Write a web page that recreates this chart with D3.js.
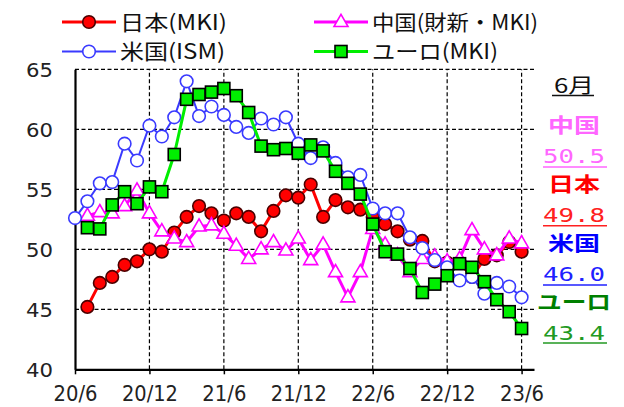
<!DOCTYPE html>
<html><head><meta charset="utf-8">
<script src="https://cdn.jsdelivr.net/npm/d3@7"></script>
<style>body{margin:0;background:#fff}svg{display:block}</style>
</head><body>
<svg id="c" width="624" height="407"></svg>
<script>
// Manufacturing PMI, monthly. Offsets are months after 2020/6.
const japan = [45.2,47.2,47.7,48.7,49.0,50.0, 49.8,51.4,52.7,53.6,53.0,52.4, 53.0,52.7,51.5,53.2,54.5,54.3, 55.4,52.7,54.1,53.5,53.3,52.7, 52.1,51.5,50.8,50.7,49.0,48.9, 48.9,47.7,49.2,49.5,50.6,49.8];
const china = [52.8,53.1,53.0,53.6,54.9,53.0, 51.5,50.9,50.6,51.9,52.0,51.3, 50.3,49.2,50.0,50.6,49.9,50.9, 49.1,50.4,48.1,46.0,48.1,51.7, 50.4,49.5,48.1,49.2,49.4,49.0, 49.2,51.6,50.0,49.5,50.9,50.5];
const usa   = [52.6,54.0,55.5,55.6,58.8,57.4,60.3, 59.4,61.0,64.0,61.1,61.9,61.2, 60.2,59.7,60.9,60.4,61.0,58.8, 57.6,58.5,57.2,56.0,56.2,53.4, 53.0,53.0,51.0,50.1,49.1,48.5, 47.4,47.7,46.3,47.2,46.9,46.0];
const euro  = [51.8,51.7,53.7,54.8,53.8,55.2, 54.8,57.9,62.5,62.9,63.1,63.4, 62.8,61.4,58.6,58.3,58.4,58.0, 58.7,58.2,56.5,55.5,54.6,52.1, 49.8,49.6,48.4,46.4,47.1,47.8, 48.8,48.5,47.3,45.8,44.8,43.4];
const seriesStart = {japan: 1, china: 1, usa: 0, euro: 1};
const tickMonths = [0, 6, 12, 18, 24, 30, 36];
const tickLabels = ["20/6", "20/12", "21/6", "21/12", "22/6", "22/12", "23/6"];
const yTicks = [40, 45, 50, 55, 60, 65];
const legendNames = ["日本(MKI)", "中国(財新・MKI)", "米国(ISM)", "ユーロ(MKI)"];
const latestTitle = "6月";
const latestNames = ["中国", "日本", "米国", "ユーロ"];
const latestValues = ["50.5", "49.8", "46.0", "43.4"];

const svg = d3.select("#c");
const x = d3.scaleLinear().domain([0, 37]).range([75, 534]);
const y = d3.scaleLinear().domain([40, 65]).range([369.3, 69.3]);
const CJK = "'Noto Sans CJK JP', 'DejaVu Sans', sans-serif";

// grid
const g = svg.append("g");
g.selectAll(".hg").data(yTicks.filter(v => v > 40)).join("line")
  .attr("x1", x(0)).attr("x2", x(37)).attr("y1", d => y(d)).attr("y2", d => y(d))
  .attr("stroke", "#000").attr("stroke-width", 1.2).attr("stroke-dasharray", "4,2.5");
g.selectAll(".vg").data(tickMonths.filter(v => v > 0)).join("line")
  .attr("x1", d => x(d)).attr("x2", d => x(d)).attr("y1", y(40)).attr("y2", y(65))
  .attr("stroke", "#000").attr("stroke-width", 1.2).attr("stroke-dasharray", "4,2.5");

// axes
const xAxis = svg.append("g").attr("transform", `translate(0,${y(40)})`)
  .call(d3.axisBottom(x).tickValues(tickMonths).tickFormat((d, i) => tickLabels[i]).tickSize(5).tickSizeOuter(0));
xAxis.select(".domain").attr("stroke-width", 2.2);
xAxis.selectAll(".tick line").attr("stroke-width", 1.5);
xAxis.selectAll("text").attr("y", 31.5).attr("dy", 0)
  .attr("font-family", "'DejaVu Sans', sans-serif").attr("font-size", 21).attr("fill", "#222")
  .attr("textLength", 44).attr("lengthAdjust", "spacingAndGlyphs");
xAxis.selectAll(".tick text").each(function(d, i){ if (tickLabels[i].length === 5) d3.select(this).attr("textLength", 56); });

const yAxis = svg.append("g").attr("transform", `translate(${x(0)},0)`)
  .call(d3.axisLeft(y).tickValues(yTicks).tickSize(0).tickPadding(22).tickSizeOuter(0));
yAxis.select(".domain").attr("stroke-width", 2.2);
yAxis.selectAll("text").attr("dy", "0.38em")
  .attr("font-family", "'DejaVu Sans', sans-serif").attr("font-size", 20).attr("fill", "#222")
  .attr("textLength", 27).attr("lengthAdjust", "spacingAndGlyphs");

// series
const tri = d3.symbol(d3.symbolTriangle, 85)();
const series = [
  {key: "japan", data: japan, line: "#ff0000", lw: 3, marker: "circle", fill: "#ff0000", stroke: "#4a0000"},
  {key: "china", data: china, line: "#ff00ff", lw: 3, marker: "tri", fill: "#fff", stroke: "#ff00ff"},
  {key: "usa", data: usa, line: "#3a3aff", lw: 2, marker: "ocircle", fill: "#fff", stroke: "#3a3aff"},
  {key: "euro", data: euro, line: "#00ee00", lw: 3, marker: "square", fill: "#00ee00", stroke: "#000"}
];
function drawMarker(sel, s) {
  if (s.marker === "circle" || s.marker === "ocircle") {
    sel.append("circle").attr("r", 6.3).attr("fill", s.fill).attr("stroke", s.stroke).attr("stroke-width", 1.6);
  } else if (s.marker === "tri") {
    sel.append("path").attr("d", tri).attr("transform", "translate(0,0.5)").attr("fill", s.fill).attr("stroke", s.stroke).attr("stroke-width", 1.6);
  } else {
    sel.append("rect").attr("x", -6).attr("y", -6).attr("width", 12).attr("height", 12).attr("fill", s.fill).attr("stroke", s.stroke).attr("stroke-width", 1.6);
  }
}
series.forEach(s => {
  const st = seriesStart[s.key];
  const line = d3.line().x((d, i) => x(st + i)).y(d => y(d));
  svg.append("path").datum(s.data).attr("d", line).attr("fill", "none")
    .attr("stroke", s.line).attr("stroke-width", s.lw).attr("stroke-linejoin", "round");
  const m = svg.append("g").selectAll("g").data(s.data).join("g")
    .attr("transform", (d, i) => `translate(${x(st + i)},${y(d)})`);
  m.each(function(){ drawMarker(d3.select(this), s); });
});

// legend
const legPos = [[62, 22], [314, 22], [62, 51.5], [314, 51.5]];
const legLen = [107, 166, 105, 126];
series.forEach((s, k) => {
  const [lx, ly] = legPos[k];
  const lg = svg.append("g");
  lg.append("line").attr("x1", lx).attr("x2", lx + 54).attr("y1", ly).attr("y2", ly)
    .attr("stroke", s.line).attr("stroke-width", s.lw);
  const mk = lg.append("g").attr("transform", `translate(${lx + 27},${ly})`);
  drawMarker(mk, s);
  lg.append("text").attr("x", lx + 58).attr("y", ly).attr("dy", "0.36em")
    .attr("font-family", CJK).attr("font-size", 21).attr("fill", "#111")
    .attr("textLength", legLen[k]).attr("lengthAdjust", "spacingAndGlyphs").text(legendNames[k]);
});

// latest values panel
const cx = 574;
svg.append("text").attr("x", cx).attr("y", 92.5).attr("text-anchor", "middle")
  .attr("font-family", CJK).attr("font-size", 20).attr("fill", "#111")
  .attr("textLength", 40).attr("lengthAdjust", "spacingAndGlyphs").text(latestTitle);
svg.append("line").attr("x1", 552).attr("x2", 594).attr("y1", 95.5).attr("y2", 95.5).attr("stroke", "#111").attr("stroke-width", 1.5);
const nameColors = ["#ff66ff", "#ff0000", "#0000ff", "#008000"];
const valColors = ["#ff66ff", "#ff2020", "#2020ff", "#229922"];
const nameY = [125.5, 185, 243.5, 302.5];
const valBase = [163, 222, 281, 339.5];
const ulY = [167, 225.7, 285, 343];
latestNames.forEach((n, i) => {
  svg.append("text").attr("x", cx).attr("y", nameY[i]).attr("dy", "0.36em").attr("text-anchor", "middle")
    .attr("font-family", CJK).attr("font-weight", "bold").attr("font-size", 20).attr("fill", nameColors[i])
    .attr("textLength", n.length === 3 ? 74 : 52).attr("lengthAdjust", "spacingAndGlyphs").text(n);
  svg.append("text").attr("x", cx).attr("y", valBase[i]).attr("text-anchor", "middle")
    .attr("font-family", "'DejaVu Sans Mono', monospace").attr("font-size", 19).attr("fill", valColors[i])
    .attr("textLength", 62).attr("lengthAdjust", "spacingAndGlyphs").text(latestValues[i]);
  svg.append("line").attr("x1", 543).attr("x2", 607).attr("y1", ulY[i]).attr("y2", ulY[i])
    .attr("stroke", valColors[i]).attr("stroke-width", 1.5);
});
</script>
</body></html>
